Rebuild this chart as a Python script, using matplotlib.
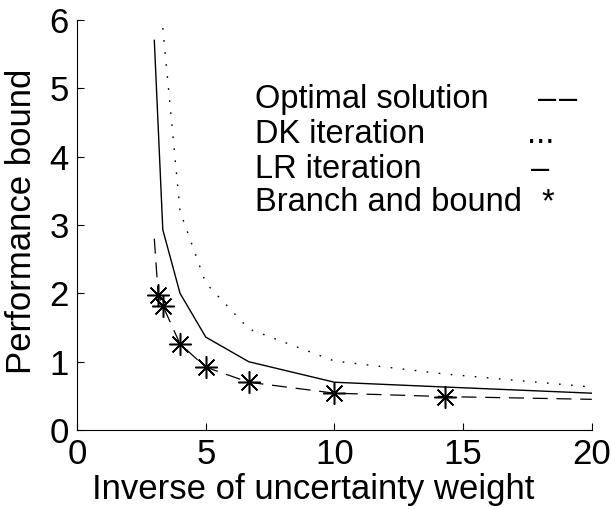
import numpy as np
import matplotlib
matplotlib.use("Agg")
import matplotlib.pyplot as plt

# Data: x = inverse of uncertainty weight
x_opt = [3.0, 3.15, 3.33, 4.0, 5.0, 6.67, 10.0, 14.3, 20.0]
y_opt = [2.8, 1.98, 1.82, 1.26, 0.92, 0.70, 0.54, 0.49, 0.45]

x_dk = [3.33, 4.0, 5.0, 6.67, 10.0, 14.3, 20.0]
y_dk = [5.88, 3.2, 2.15, 1.48, 1.01, 0.82, 0.63]

x_lr = [3.0, 3.33, 4.0, 5.0, 6.67, 10.0, 14.3, 20.0]
y_lr = [5.7, 2.93, 2.0, 1.36, 1.0, 0.70, 0.63, 0.54]

x_bb = [3.15, 3.33, 4.0, 5.0, 6.67, 10.0, 14.3]
y_bb = [1.98, 1.82, 1.26, 0.92, 0.70, 0.54, 0.49]

legend_labels = ["Optimal solution", "DK iteration", "LR iteration", "Branch and bound"]
legend_marks = ["\u2013\u200a\u2013", "...", "\u2013", "*"]

plt.rcParams['font.family'] = ['Liberation Sans', 'DejaVu Sans']

fig = plt.figure(figsize=(6.12, 5.09), dpi=100)
ax = fig.add_axes([0.126, 0.155, 0.841, 0.806])

ax.plot(x_opt, y_opt, color='k', lw=0.9, linestyle=(0, (12, 7)))
ax.plot(x_dk, y_dk, color='k', lw=1.0, linestyle=(0, (1.2, 7.5)))
ax.plot(x_lr, y_lr, color='k', lw=1.0)
ax.plot(x_bb, y_bb, linestyle='none', marker=(8, 2, 0), markersize=16,
        markeredgewidth=1.1, color='k')

ax.set_xlim(0, 20)
ax.set_ylim(0, 6)
ax.set_xticks([0, 5, 10, 15, 20])
ax.set_yticks([0, 1, 2, 3, 4, 5, 6])
ax.spines['top'].set_visible(False)
ax.spines['right'].set_visible(False)
ax.tick_params(direction='in', length=5, width=0.8, labelsize=25, pad=6)
ax.set_xlabel('Inverse of uncertainty weight', fontsize=25)
ax.set_ylabel('Performance bound', fontsize=25)
ax.xaxis.set_label_coords(0.458, -0.105)
ax.yaxis.set_label_coords(-0.076, 0.51)

rows = [4.71, 4.20, 3.69, 3.20]
mark_x = [18.67, 18.0, 18.0, 18.3]
for lab, mk, yy, mx in zip(legend_labels, legend_marks, rows, mark_x):
    ax.text(6.9, yy, lab, fontsize=23.5, ha='left', va='baseline')
    ax.text(mx, yy, mk, fontsize=23.5, ha='center', va='baseline')

fig.savefig('out.png', dpi=100)
